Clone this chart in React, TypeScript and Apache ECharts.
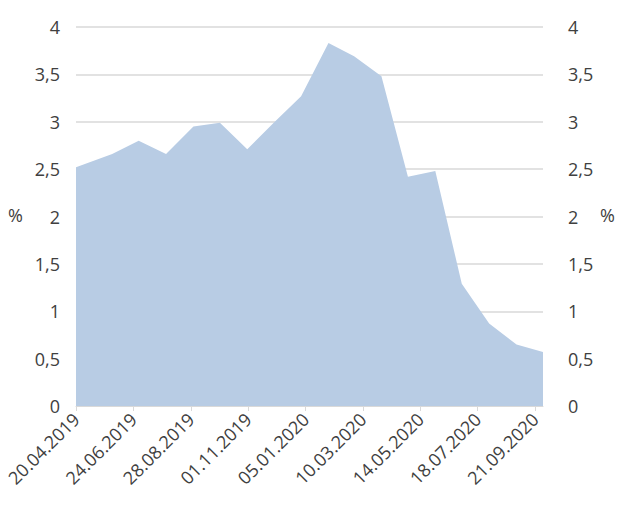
import React, { useEffect, useRef } from "react";
import * as echarts from "echarts";

const dates = [
  "20.04.2019", "31.05.2019", "30.06.2019", "31.07.2019", "31.08.2019", "30.09.2019",
  "31.10.2019", "30.11.2019", "31.12.2019", "31.01.2020", "29.02.2020", "31.03.2020",
  "30.04.2020", "31.05.2020", "30.06.2020", "31.07.2020", "31.08.2020", "30.09.2020",
];
const values = [
  2.52, 2.66, 2.8, 2.66, 2.95, 2.99,
  2.71, 2.99, 3.27, 3.83, 3.69, 3.48,
  2.42, 2.48, 1.29, 0.87, 0.65, 0.57,
];
const tickDates = [
  "20.04.2019", "24.06.2019", "28.08.2019", "01.11.2019", "05.01.2020",
  "10.03.2020", "14.05.2020", "18.07.2020", "21.09.2020",
];
const yMin = 0;
const yMax = 4;
const yStep = 0.5;
const unitLabel = "%";

const dayNum = (s: string) => {
  const [d, m, y] = s.split(".").map(Number);
  return Math.round(Date.UTC(y, m - 1, d) / 86400000);
};
const base = dayNum(dates[0]);
const pad = (n: number) => (n < 10 ? "0" + n : "" + n);
const fmtDay = (off: number) => {
  const dt = new Date((base + Math.round(off)) * 86400000);
  return pad(dt.getUTCDate()) + "." + pad(dt.getUTCMonth() + 1) + "." + dt.getUTCFullYear();
};

const FONT = "'Open Sans', sans-serif";
const TEXT = "#404040";

export default function App() {
  const ref = useRef<HTMLDivElement>(null);
  useEffect(() => {
    document.body.style.margin = "0";
    if (!ref.current) return;
    const chart = echarts.init(ref.current, undefined, { renderer: "svg" });
    const tickOffsets = tickDates.map((d) => dayNum(d) - base);
    const xMax = dayNum(dates[dates.length - 1]) - base;
    const yFmt = (v: number) => String(v).replace(".", ",");
    chart.setOption({
      animation: false,
      textStyle: { fontFamily: FONT },
      grid: { left: 76, right: 77, top: 27, bottom: 113, containLabel: false, outerBoundsMode: "none" },
      xAxis: {
        type: "value",
        min: 0,
        max: xMax,
        interval: 65,
        axisLine: { show: true, onZero: false, lineStyle: { color: "#d9d9d9", width: 1 } },
        axisTick: { show: true, length: 5, lineStyle: { color: "#d9d9d9" }, customValues: tickOffsets },
        axisLabel: {
          customValues: tickOffsets,
          rotate: 45,
          margin: 10,
          fontSize: 18,
          color: TEXT,
          fontFamily: FONT,
          formatter: (v: number) => fmtDay(v),
        },
        splitLine: { show: false },
      },
      yAxis: [
        {
          type: "value",
          min: yMin,
          max: yMax,
          interval: yStep,
          position: "left",
          axisLine: { show: false },
          axisTick: { show: false },
          axisLabel: { margin: 16, fontSize: 18, color: TEXT, fontFamily: FONT, formatter: yFmt },
          splitLine: { show: true, lineStyle: { color: "#d9d9d9", width: 1.5 } },
        },
        {
          type: "value",
          min: yMin,
          max: yMax,
          interval: yStep,
          position: "right",
          axisLine: { show: false },
          axisTick: { show: false },
          axisLabel: { margin: 25, fontSize: 18, color: TEXT, fontFamily: FONT, formatter: yFmt },
          splitLine: { show: false },
        },
      ],
      series: [
        {
          type: "line",
          data: dates.map((d, i) => [dayNum(d) - base, values[i]]),
          symbol: "none",
          lineStyle: { width: 0, color: "#b8cce4" },
          areaStyle: { color: "#b8cce4", opacity: 1 },
          silent: true,
        },
      ],
      graphic: [
        {
          type: "text",
          left: 8,
          top: 206,
          style: { text: unitLabel, fontSize: 18, fill: TEXT, fontFamily: FONT },
        },
        {
          type: "text",
          left: 600,
          top: 206,
          style: { text: unitLabel, fontSize: 18, fill: TEXT, fontFamily: FONT },
        },
      ],
    });
    return () => chart.dispose();
  }, []);
  return <div ref={ref} style={{ width: 620, height: 519 }} />;
}
